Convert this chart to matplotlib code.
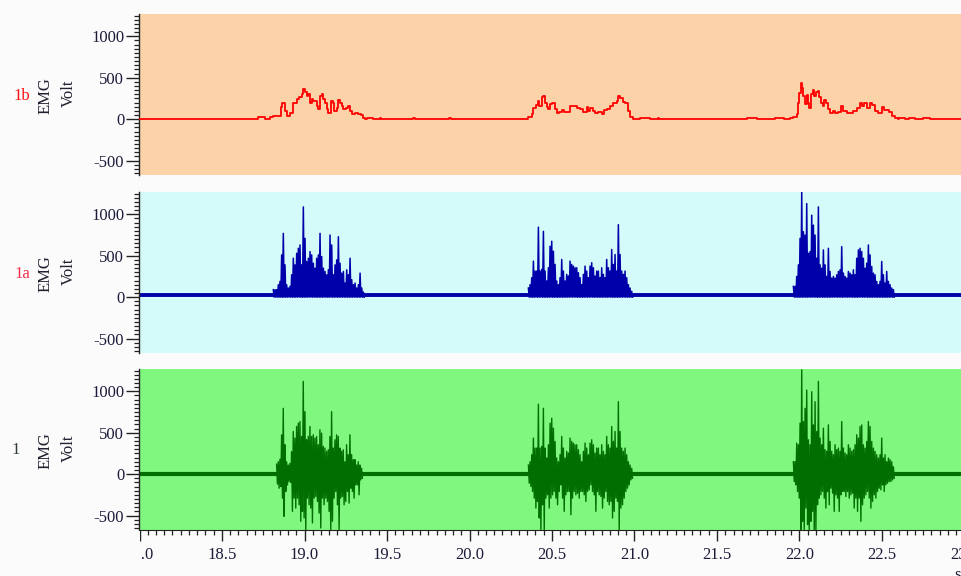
import numpy as np
import matplotlib
matplotlib.use("Agg")
import matplotlib.pyplot as plt
from matplotlib.ticker import MultipleLocator, FormatStrFormatter
from matplotlib.patches import Rectangle

# ---------------- data ----------------
# Channel 1b : smoothed EMG envelope (time s, value)
ENV_T = [18.000, 18.718, 18.720, 18.761, 18.763, 18.789, 18.791, 18.811, 18.847, 18.855,
         18.862, 18.872, 18.882, 18.892, 18.902, 18.912, 18.932, 18.952, 18.969, 18.983,
         18.993, 19.003, 19.013, 19.023, 19.033, 19.043, 19.053, 19.074, 19.084, 19.094,
         19.104, 19.114, 19.124, 19.134, 19.144, 19.158, 19.171, 19.181, 19.195, 19.205,
         19.215, 19.225, 19.235, 19.251, 19.266, 19.276, 19.286, 19.306, 19.326, 19.340,
         19.352, 19.366, 19.377, 19.378, 19.417, 19.418, 19.455, 19.456, 19.462, 19.463,
         19.655, 19.656, 19.666, 19.667, 19.875, 19.876, 19.888, 19.889,
         20.346, 20.356, 20.377, 20.387, 20.403, 20.413, 20.423, 20.437, 20.447, 20.457,
         20.468, 20.478, 20.488, 20.502, 20.518, 20.528, 20.544, 20.559, 20.573, 20.589,
         20.609, 20.629, 20.649, 20.670, 20.690, 20.710, 20.720, 20.730, 20.746, 20.760,
         20.781, 20.801, 20.817, 20.831, 20.851, 20.872, 20.892, 20.902, 20.912, 20.928,
         20.942, 20.952, 20.962, 20.973, 20.993,
         21.030, 21.031, 21.095, 21.096, 21.143, 21.144, 21.148, 21.149,
         21.680, 21.681, 21.740, 21.741, 21.850, 21.851, 21.900, 21.905, 21.940, 21.963,
         21.973, 21.983, 21.993, 21.999, 22.007, 22.017, 22.023, 22.033, 22.044, 22.050,
         22.060, 22.068, 22.080, 22.088, 22.098, 22.110, 22.120, 22.130, 22.140, 22.150,
         22.161, 22.171, 22.185, 22.201, 22.215, 22.235, 22.251, 22.266, 22.286, 22.306,
         22.326, 22.346, 22.367, 22.377, 22.391, 22.407, 22.427, 22.441, 22.458, 22.478,
         22.498, 22.514, 22.528, 22.544, 22.559, 22.579, 22.599,
         22.600, 22.640, 22.641, 22.660, 22.661, 22.700, 22.701, 22.750, 22.751, 22.790,
         22.791, 23.030]
ENV_V = [0, 0, 20, 20, 0, 0, 20, 40, 40, 150,
         200, 200, 100, 40, 40, 80, 200, 245, 270, 305,
         365, 325, 285, 305, 200, 245, 225, 160, 120, 285,
         305, 245, 200, 120, 80, 225, 200, 100, 140, 230,
         200, 160, 120, 140, 155, 100, 60, 70, 60, 50,
         12, 0, 0, 12, 12, 0, 0, 12, 12, 0,
         0, 12, 12, 0, 0, 12, 12, 0,
         0, 20, 60, 140, 175, 220, 160, 270, 280, 200,
         150, 120, 180, 190, 120, 70, 85, 110, 90, 85,
         160, 155, 140, 120, 90, 150, 100, 140, 100, 80,
         90, 60, 110, 120, 160, 190, 220, 280, 250, 210,
         200, 190, 100, 30, 0,
         0, 15, 15, 0, 0, 10, 10, 0,
         0, 15, 15, 0, 0, 15, 15, 5, 10, 20,
         20, 60, 200, 320, 440, 370, 280, 180, 290, 200,
         140, 300, 350, 280, 330, 340, 270, 200, 160, 230,
         200, 120, 75, 95, 75, 90, 160, 100, 75, 80,
         100, 130, 190, 160, 200, 140, 200, 170, 100, 70,
         150, 110, 110, 90, 40, 10, 0,
         10, 10, 0, 0, 10, 10, 0, 0, 15, 15,
         0, 0]

# Channel 1a : rectified EMG, burst onsets / offsets (s) and spike heights
RECT_START = [18.811, 20.357, 21.963]
RECT_END = [19.357, 20.983, 22.569]
RECT_B1 = [90, 90, 90, 150, 190, 510, 770, 390, 150, 110, 130, 270, 470, 390, 530, 590,
           630, 390, 1090, 710, 430, 470, 550, 510, 410, 350, 470, 510, 770, 490, 350,
           310, 270, 330, 750, 630, 270, 390, 450, 730, 410, 290, 310, 170, 330, 270,
           470, 210, 150, 170, 110, 150, 290, 110, 60]
RECT_B2 = [110, 150, 235, 435, 315, 315, 845, 315, 335, 795, 315, 195, 355, 615, 675,
           555, 395, 195, 150, 235, 455, 315, 195, 275, 255, 435, 395, 375, 355, 355,
           295, 235, 150, 275, 375, 315, 235, 375, 415, 355, 255, 315, 315, 235, 355,
           275, 235, 455, 355, 315, 575, 395, 515, 315, 875, 515, 315, 275, 315, 235,
           150, 110, 70]
RECT_B3 = [130, 130, 250, 390, 710, 1270, 790, 750, 1130, 530, 550, 990, 870, 750, 470,
           1090, 390, 350, 570, 390, 250, 590, 310, 230, 250, 230, 270, 310, 330, 610,
           290, 250, 230, 310, 290, 270, 330, 270, 470, 570, 590, 550, 470, 350, 410,
           630, 510, 370, 290, 270, 190, 150, 190, 430, 270, 170, 310, 190, 150, 110, 90]
RECT_BASE = 25

# Channel 1 : raw EMG, burst onsets / offsets (s), positive and negative excursions
RAW_START = [18.831, 20.357, 21.963]
RAW_END = [19.346, 20.983, 22.569]
RAW_UP_B1 = [120, 150, 180, 475, 795, 355, 150, 110, 130, 270, 515, 435, 575, 615, 635,
             455, 1120, 755, 415, 455, 575, 455, 475, 435, 455, 355, 535, 495, 335, 315,
             275, 295, 455, 755, 315, 415, 475, 455, 315, 275, 295, 150, 355, 235, 475,
             235, 175, 175, 110, 150, 110, 70]
RAW_DN_B1 = [-120, -170, -150, -290, -510, -210, -130, -90, -100, -450, -290, -410, -290,
             -370, -570, -450, -530, -670, -290, -370, -410, -590, -290, -270, -330, -470,
             -650, -290, -370, -290, -330, -450, -670, -570, -290, -210, -370, -670, -290,
             -270, -370, -330, -210, -350, -170, -210, -290, -130, -130, -250, -70, -50]
RAW_UP_B2 = [110, 150, 235, 435, 315, 315, 845, 315, 335, 795, 315, 195, 355, 615, 675,
             555, 395, 195, 150, 235, 455, 315, 195, 275, 255, 435, 395, 375, 355, 355,
             295, 235, 150, 275, 375, 315, 235, 375, 415, 355, 255, 315, 315, 235, 355,
             275, 235, 455, 355, 315, 575, 395, 515, 315, 875, 515, 315, 275, 315, 235,
             150, 110, 70]
RAW_DN_B2 = [-110, -150, -210, -290, -410, -330, -530, -670, -370, -670, -290, -250, -410,
             -290, -250, -210, -290, -370, -210, -130, -290, -450, -250, -210, -210, -490,
             -290, -210, -250, -230, -290, -210, -210, -250, -330, -210, -190, -130, -210,
             -250, -450, -210, -250, -270, -410, -290, -210, -330, -370, -330, -530, -450,
             -290, -330, -670, -410, -370, -290, -210, -170, -130, -70, -50]
RAW_UP_B3 = [150, 150, 375, 355, 615, 1260, 635, 795, 1015, 415, 355, 995, 595, 875, 515,
             1120, 435, 355, 555, 295, 275, 595, 395, 275, 235, 355, 295, 315, 275, 635,
             315, 255, 235, 355, 315, 275, 295, 355, 475, 435, 575, 595, 355, 315, 395,
             635, 575, 395, 315, 275, 235, 195, 235, 435, 195, 235, 150, 195, 175, 150, 90]
RAW_DN_B3 = [-90, -130, -210, -290, -670, -570, -670, -410, -610, -670, -570, -450, -670,
             -670, -370, -290, -250, -210, -290, -410, -210, -370, -170, -230, -450, -250,
             -290, -450, -250, -210, -210, -270, -210, -290, -250, -230, -410, -290, -450,
             -290, -570, -370, -290, -250, -210, -290, -410, -330, -250, -290, -210, -170,
             -190, -130, -210, -130, -110, -90, -90, -70, -50]
RAW_BASE = 0

CHANNELS = ["1b", "1a", "1"]
YLABEL = ["EMG", "Volt"]
X_UNIT = "s"

# ---------------- figure ----------------
W, H = 962, 576
XMIN, XMAX = 18.0, 23.03
YMIN, YMAX = -675, 1270
PX_PER_S = 165.0
FIGBG = "#FBFBFB"

plt.rcParams["axes.unicode_minus"] = False
plt.rcParams["font.family"] = ["Liberation Serif", "DejaVu Serif"]

fig = plt.figure(figsize=(W / 100, H / 100), dpi=100, facecolor=FIGBG)

panels = [(14, 175, "#FCD3A9"), (192, 353, "#D4FAFA"), (369, 530, "#80F880")]
label_colors = ["#FF1010", "#F0304A", "#2F3A3A"]
label_x = [22, 22, 16]
axes = []
for i, (top, bot, bg) in enumerate(panels):
    ax = fig.add_axes([139.5 / W, 1 - bot / H, (XMAX - XMIN) * PX_PER_S / W, (bot - top) / H])
    ax.set_facecolor(bg)
    ax.set_xlim(XMIN, XMAX)
    ax.set_ylim(YMIN, YMAX)
    for s in ["top", "right"]:
        ax.spines[s].set_visible(False)
    ax.spines["left"].set_color("#222222")
    ax.spines["left"].set_linewidth(1.0)
    ax.yaxis.set_major_locator(MultipleLocator(500))
    ax.yaxis.set_minor_locator(MultipleLocator(50))
    ax.tick_params(axis="y", which="major", length=9.5, width=1.0, color="#222222",
                   labelsize=12, labelcolor="#1C1C3A", pad=1.5, direction="out")
    ax.tick_params(axis="y", which="minor", length=3.5, width=0.9, color="#222222",
                   direction="out")
    if i < 2:
        ax.spines["bottom"].set_visible(False)
        ax.tick_params(axis="x", which="both", bottom=False, labelbottom=False)
    else:
        ax.spines["bottom"].set_color("#222222")
        ax.xaxis.set_major_locator(MultipleLocator(0.5))
        ax.xaxis.set_minor_locator(MultipleLocator(0.05))
        ax.xaxis.set_major_formatter(FormatStrFormatter("%.1f"))
        ax.tick_params(axis="x", which="major", length=7.7, width=1.0, color="#222222",
                       labelsize=12, labelcolor="#1C1C3A", pad=4.5)
        ax.tick_params(axis="x", which="minor", length=3.8, width=0.9, color="#222222")
    yc = (top + bot) / 2
    fig.text(label_x[i] / W, 1 - (yc + 1) / H, CHANNELS[i], color=label_colors[i],
             fontsize=12, ha="center", va="center")
    fig.text(46 / W, 1 - (yc + 1) / H, YLABEL[0], rotation=90, color="#202030",
             fontsize=12, ha="center", va="center")
    fig.text(69 / W, 1 - (yc - 1) / H, YLABEL[1], rotation=90, color="#202030",
             fontsize=12, ha="center", va="center")
    axes.append(ax)

# --- channel 1b : envelope
axes[0].plot(ENV_T, ENV_V, color="#FF0000", lw=1.3, drawstyle="steps-post", zorder=3)

# --- channel 1a : rectified (each spike drawn up from the noise floor and back)
ax = axes[1]
ax.plot([XMIN, XMAX], [RECT_BASE, RECT_BASE], color="#0000AA", lw=2.8, zorder=2)
for st, en, vals in zip(RECT_START, RECT_END, [RECT_B1, RECT_B2, RECT_B3]):
    t = np.linspace(st, en, len(vals))
    half = (t[1] - t[0]) / 2
    xs = np.column_stack([t, t + half]).ravel()
    ys = np.column_stack([vals, np.full(len(vals), 0)]).ravel()
    ax.plot(xs, ys, color="#0000AA", lw=1.1, zorder=3)

# --- channel 1 : raw
ax = axes[2]
ax.plot([XMIN, XMAX], [RAW_BASE, RAW_BASE], color="#006E00", lw=3.0, zorder=2)
for st, en, up, dn in zip(RAW_START, RAW_END, [RAW_UP_B1, RAW_UP_B2, RAW_UP_B3],
                          [RAW_DN_B1, RAW_DN_B2, RAW_DN_B3]):
    t = np.linspace(st, en, len(up))
    half = (t[1] - t[0]) / 2
    xs = np.column_stack([t, t + half]).ravel()
    ys = np.column_stack([up, dn]).ravel()
    ax.plot(xs, ys, color="#006E00", lw=1.0, zorder=3)

# hide the part of the first x label that lies left of the plot area
fig.add_artist(Rectangle((0, 0), 140.5 / W, 45 / H, transform=fig.transFigure,
                         facecolor=FIGBG, edgecolor="none", zorder=10))
fig.text(957.7 / W, 1 - 575 / H, X_UNIT, fontsize=12, color="#1C1C3A",
         ha="center", va="center")

fig.savefig("out.png", dpi=100, facecolor=FIGBG)
